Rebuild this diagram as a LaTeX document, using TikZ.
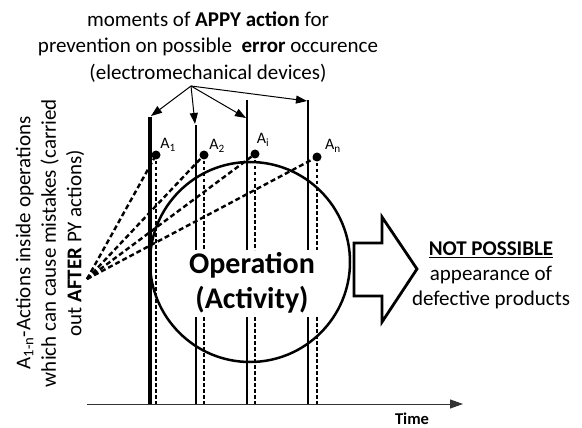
\documentclass[tikz,border=0pt]{standalone}
\usepackage{fontspec}
\setmainfont{Carlito}
\usetikzlibrary{arrows.meta}
\begin{document}
\begin{tikzpicture}[x=1pt,y=-1pt,
  solidline/.style={line width=2.6pt},
  thickline/.style={line width=3.4pt},
  dotline/.style={line width=2.4pt, dash pattern=on 3.5pt off 2.5pt},
  fanline/.style={line width=2.4pt, dash pattern=on 5pt off 3pt},
  ptr/.style={line width=1pt,-{Triangle[length=11pt,width=8pt]}},
  txt/.style={font=\fontsize{21}{26}\selectfont, align=center, inner sep=0pt},
  lbl/.style={font=\fontsize{16}{18}\selectfont, inner sep=0pt},
  dotnode/.style={circle, fill=black, minimum size=9pt, inner sep=0pt},
]
\useasboundingbox (0,0) rectangle (582,428);

% texts
\node[txt, font=\fontsize{21}{26.5}\selectfont] (top) at (208,47) {moments of \textbf{APPY action} for\\prevention on possible\ \ \textbf{error} occurence\\(electromechanical devices)};
\node[txt, rotate=90, font=\fontsize{21}{25.5}\selectfont] (left) at (50,243) {A\textsubscript{1-n}-Actions inside operations\\which can cause mistakes (carried\\out \textbf{AFTER} PY actions)};
\node[txt, font=\fontsize{21}{25}\selectfont] (right) at (491,275) {\textbf{\underline{NOT POSSIBLE}}\\appearance of\\defective products};
\node[font=\fontsize{30}{35}\selectfont\bfseries, align=center, inner sep=0pt] (optext) at (252,283) {Operation\\(Activity)};
\node[font=\fontsize{16.5}{18}\selectfont\bfseries, inner sep=0pt] (time) at (412,419) {Time};

% coordinates of vertical lines
\coordinate (L1t) at (150,117); \coordinate (L1b) at (150,405);
\coordinate (L2t) at (196,125); \coordinate (L2g) at (196,250); \coordinate (L2h) at (196,317); \coordinate (L2b) at (196,405);
\coordinate (L3t) at (247,100); \coordinate (L3g) at (247,250); \coordinate (L3h) at (247,317); \coordinate (L3b) at (247,405);
\coordinate (L4t) at (308,100); \coordinate (L4g) at (308,250); \coordinate (L4h) at (308,317); \coordinate (L4b) at (308,405);

\draw[thickline] (L1t) -- (L1b);
\draw[solidline] (L2t) -- (L2g) (L2h) -- (L2b);
\draw[solidline] (L3t) -- (L3g) (L3h) -- (L3b);
\draw[solidline] (L4t) -- (L4g) (L4h) -- (L4b);

% dots
\node[dotnode] (d1) at (156,155) {};
\node[dotnode] (d2) at (204,155) {};
\node[dotnode] (d3) at (255,154) {};
\node[dotnode] (d4) at (317,157) {};
\node[lbl] (a1) at (168,145) {A\textsubscript{1}};
\node[lbl] (a2) at (217,146) {A\textsubscript{2}};
\node[lbl] (a3) at (263,140) {A\textsubscript{i}};
\node[lbl] (a4) at (333,146) {A\textsubscript{n}};

\coordinate (D1b) at (156,405);
\coordinate (D2g) at (204,250); \coordinate (D2h) at (204,317); \coordinate (D2b) at (204,405);
\coordinate (D3g) at (255,250); \coordinate (D3h) at (255,317); \coordinate (D3b) at (255,405);
\coordinate (D4g) at (317,250); \coordinate (D4h) at (317,317); \coordinate (D4b) at (317,405);
\draw[dotline] (d1.center) -- (D1b);
\draw[dotline] (d2.center) -- (D2g) (D2h) -- (D2b);
\draw[dotline] (d3.center) -- (D3g) (D3h) -- (D3b);
\draw[dotline] (d4.center) -- (D4g) (D4h) -- (D4b);

% fan
\coordinate (f) at (87,279);
\draw[fanline] (f) -- (d1.center);
\draw[fanline] (f) -- (d2.center);
\draw[fanline] (f) -- (d3.center);
\draw[fanline] (f) -- (d4.center);

% circle
\node[draw, circle, line width=2.5pt, minimum size=200pt, inner sep=0pt] (op) at (250,262) {};

% top arrows
\coordinate (src) at (191,86);
\coordinate (t1) at (151,116);
\coordinate (t2) at (195,124);
\coordinate (t3) at (246,118);
\coordinate (t4) at (307,101);
\draw[ptr] (src) -- (t1);
\draw[ptr] (src) -- (t2);
\draw[ptr] (src) -- (t3);
\draw[ptr] (src) -- (t4);

% big arrow
\draw[line width=2.8pt, line join=miter] (354,243) -- (382,243) -- (382,217) -- (417,269) -- (382,322) -- (382,296) -- (354,296) -- cycle;

% axis
\coordinate (ax0) at (87,404);
\coordinate (ax1) at (463,404);
\draw[line width=1pt, black!80, -{Triangle[length=13pt,width=9pt]}] (ax0) -- (ax1);
\end{tikzpicture}
\end{document}
